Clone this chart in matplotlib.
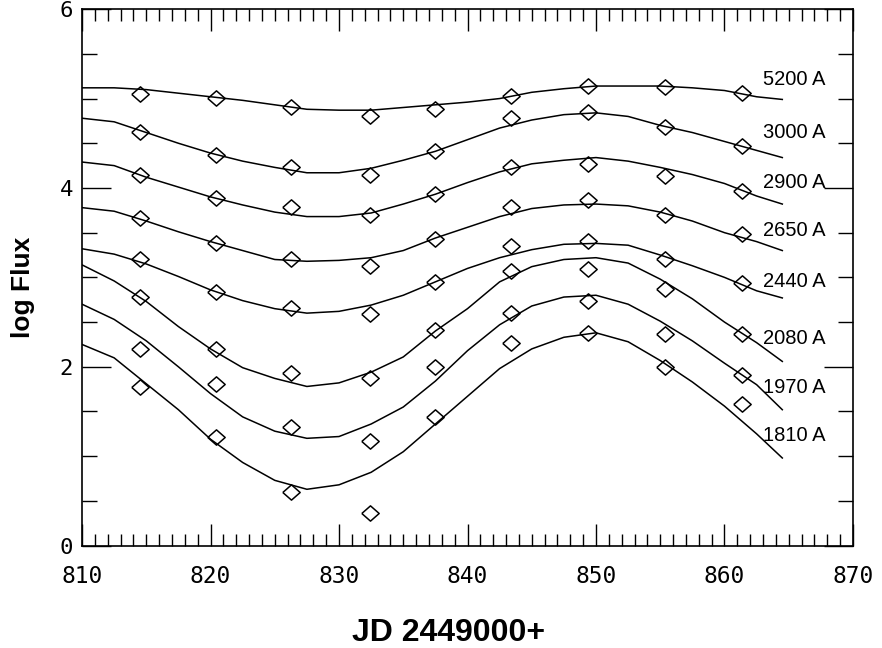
import matplotlib
matplotlib.use('Agg')
import matplotlib.pyplot as plt
from matplotlib.ticker import MultipleLocator

# Observed epochs (JD - 2449000)
obs_jd = [814.5, 820.4, 826.3, 832.4, 837.5, 843.4, 849.4, 855.4, 861.4]

# Observed log flux per wavelength
obs_5200 = [5.05, 5.01, 4.91, 4.81, 4.88, 5.03, 5.14, 5.13, 5.06]
obs_3000 = [4.63, 4.37, 4.24, 4.15, 4.41, 4.78, 4.85, 4.68, 4.47]
obs_2900 = [4.14, 3.89, 3.79, 3.70, 3.93, 4.24, 4.27, 4.13, 3.97]
obs_2650 = [3.66, 3.38, 3.20, 3.13, 3.43, 3.79, 3.86, 3.70, 3.48]
obs_2440 = [3.20, 2.84, 2.66, 2.59, 2.95, 3.35, 3.41, 3.20, 2.94]
obs_2080 = [2.78, 2.20, 1.93, 1.88, 2.41, 3.07, 3.09, 2.87, 2.37]
obs_1970 = [2.20, 1.81, 1.33, 1.17, 2.00, 2.60, 2.74, 2.37, 1.91]
obs_1810 = [1.77, 1.21, 0.60, 0.37, 1.44, 2.27, 2.38, 2.00, 1.58]

model_jd = [810, 812.5, 815, 817.5, 820, 822.5, 825, 827.5, 830, 832.5, 835, 837.5,
            840, 842.5, 845, 847.5, 850, 852.5, 855, 857.5, 860, 862.5, 864.5]
model_5200 = [5.12, 5.12, 5.10, 5.06, 5.02, 4.98, 4.93, 4.88, 4.87, 4.87, 4.90, 4.93,
              4.96, 5.00, 5.07, 5.11, 5.14, 5.14, 5.14, 5.12, 5.09, 5.02, 4.99]
model_3000 = [4.78, 4.74, 4.62, 4.50, 4.39, 4.30, 4.23, 4.17, 4.17, 4.22, 4.31, 4.41,
              4.54, 4.67, 4.76, 4.82, 4.84, 4.80, 4.70, 4.62, 4.52, 4.42, 4.34]
model_2900 = [4.29, 4.25, 4.12, 4.01, 3.90, 3.81, 3.73, 3.68, 3.68, 3.72, 3.82, 3.93,
              4.06, 4.18, 4.27, 4.31, 4.34, 4.30, 4.23, 4.15, 4.05, 3.91, 3.82]
model_2650 = [3.78, 3.74, 3.63, 3.51, 3.40, 3.30, 3.20, 3.18, 3.19, 3.22, 3.30, 3.44,
              3.56, 3.68, 3.77, 3.81, 3.82, 3.80, 3.73, 3.63, 3.50, 3.40, 3.30]
model_2440 = [3.32, 3.26, 3.15, 3.01, 2.86, 2.74, 2.65, 2.60, 2.62, 2.69, 2.80, 2.95,
              3.10, 3.22, 3.31, 3.37, 3.38, 3.36, 3.25, 3.13, 3.00, 2.85, 2.77]
model_2080 = [3.14, 2.96, 2.73, 2.45, 2.20, 1.99, 1.87, 1.78, 1.82, 1.94, 2.11, 2.40,
              2.65, 2.95, 3.12, 3.20, 3.22, 3.16, 2.98, 2.76, 2.50, 2.27, 2.06]
model_1970 = [2.70, 2.53, 2.29, 2.00, 1.70, 1.44, 1.28, 1.20, 1.22, 1.36, 1.55, 1.84,
              2.18, 2.47, 2.68, 2.78, 2.80, 2.70, 2.51, 2.29, 2.04, 1.80, 1.52]
model_1810 = [2.25, 2.10, 1.81, 1.52, 1.19, 0.93, 0.73, 0.63, 0.68, 0.82, 1.05, 1.36,
              1.67, 1.98, 2.20, 2.33, 2.38, 2.28, 2.07, 1.83, 1.56, 1.25, 0.98]

band_labels = ['5200 A', '3000 A', '2900 A', '2650 A', '2440 A', '2080 A', '1970 A', '1810 A']
obs_series = [obs_5200, obs_3000, obs_2900, obs_2650, obs_2440, obs_2080, obs_1970, obs_1810]
model_series = [model_5200, model_3000, model_2900, model_2650, model_2440,
                model_2080, model_1970, model_1810]

# where the band names sit, just above the end of each curve
label_x = 863.0
label_y = [5.21, 4.62, 4.06, 3.52, 2.95, 2.32, 1.77, 1.23]

diamond = [(-1, 0), (0, 0.88), (1, 0), (0, -0.88), (-1, 0)]

fig = plt.figure(figsize=(8.82, 6.48), dpi=100)
ax = fig.add_axes([0.093, 0.158, 0.8741, 0.8279])

for model, obs in zip(model_series, obs_series):
    ax.plot(model_jd, model, color='black', lw=1.1)
    ax.plot(obs_jd, obs, ls='none', marker=diamond, ms=12.5,
            mfc='none', mec='black', mew=1.1)

for name, y in zip(band_labels, label_y):
    ax.text(label_x, y, name, ha='left', va='center', fontsize=14.5,
            family='Liberation Sans')

ax.set_xlim(810, 870)
ax.set_ylim(0, 6)
ax.xaxis.set_major_locator(MultipleLocator(10))
ax.xaxis.set_minor_locator(MultipleLocator(1))
ax.yaxis.set_major_locator(MultipleLocator(2))
ax.yaxis.set_minor_locator(MultipleLocator(0.5))

ax.tick_params(axis='both', which='both', direction='in', top=True, right=True,
               color='black', width=1.0)
ax.tick_params(axis='x', which='major', length=15.5, pad=14, labelsize=16.5)
ax.tick_params(axis='x', which='minor', length=8.5)
ax.tick_params(axis='y', which='major', length=21, pad=6.5, labelsize=16)
ax.tick_params(axis='y', which='minor', length=10.5)
for lab in ax.get_xticklabels() + ax.get_yticklabels():
    lab.set_family('DejaVu Sans Mono')

for sp in ax.spines.values():
    sp.set_linewidth(1.2)

ax.set_xlabel('JD 2449000+', fontsize=23, fontweight='bold', family='Liberation Sans')
ax.set_ylabel('log Flux', fontsize=19, fontweight='bold', family='Liberation Sans')
ax.xaxis.set_label_coords(0.475, -0.135)
ax.yaxis.set_label_coords(-0.061, 0.481)

fig.savefig('out.png', dpi=100)
